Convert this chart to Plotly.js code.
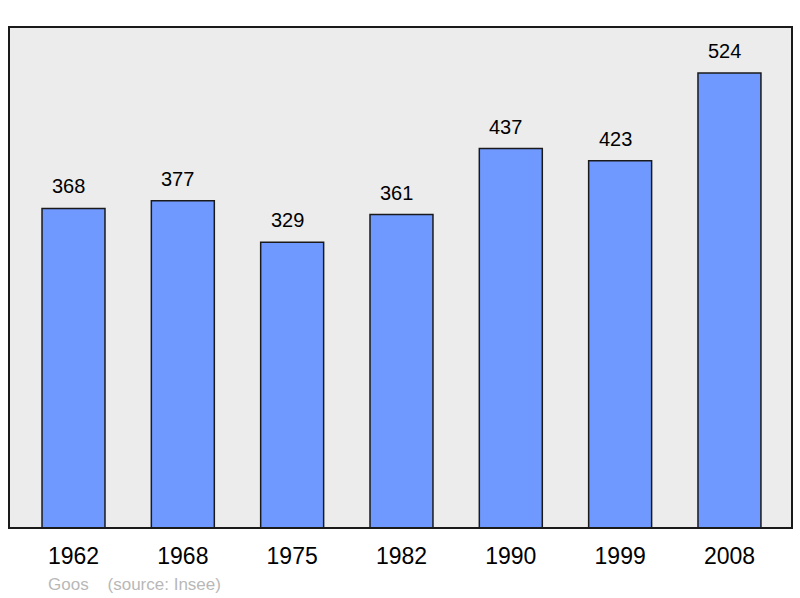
<!DOCTYPE html>
<html><head><meta charset="utf-8">
<script src="https://cdn.plot.ly/plotly-3.0.1.min.js"></script>
<style>html,body{margin:0;padding:0;background:#fff;}#c{width:800px;height:598px;}</style>
</head><body><div id="c"></div>
<script>
const years = ["1962","1968","1975","1982","1990","1999","2008"];
const population = [368,377,329,361,437,423,524];
const footer = "Goos\u00a0\u00a0\u00a0\u00a0(source: Insee)";

const trace = {
  type: "bar", x: years, y: population,
  width: 0.576,
  marker: {color: "#7099ff", line: {color: "#1a1a1a", width: 1.5}},
  hoverinfo: "none"
};
const anns = years.map((y, i) => ({
  x: i, y: population[i], xref: "x", yref: "y",
  text: String(population[i]), showarrow: false,
  yanchor: "bottom", yshift: 9, xshift: -5,
  font: {family: "Liberation Sans, Arial, sans-serif", size: 20, color: "#000"}
}));
anns.push({
  xref: "paper", yref: "paper", x: (46-9)/783, y: -0.112,
  xanchor: "left", yanchor: "middle", showarrow: false, text: footer,
  font: {family: "Liberation Sans, Arial, sans-serif", size: 17, color: "#b8b8b8"}
});
const layout = {
  width: 800, height: 598,
  margin: {l: 9, r: 8, t: 27, b: 70, pad: 0},
  paper_bgcolor: "#ffffff", plot_bgcolor: "#ececec",
  showlegend: false,
  font: {family: "Liberation Sans, Arial, sans-serif", color: "#000"},
  xaxis: {type: "category", range: [-0.59, 6.572], showgrid: false, zeroline: false,
    ticks: "", showline: false, tickfont: {size: 23, color: "#000"}, ticklabelstandoff: 12, fixedrange: true},
  yaxis: {range: [0, 577], showgrid: false, zeroline: false, showticklabels: false,
    ticks: "", showline: false, fixedrange: true},
  shapes: [{type: "rect", xref: "paper", yref: "paper", x0: 0, x1: 1, y0: 0, y1: 1,
    line: {color: "#1a1a1a", width: 2}, layer: "above"}],
  annotations: anns
};
Plotly.newPlot("c", [trace], layout, {staticPlot: true, displayModeBar: false});
</script></body></html>
